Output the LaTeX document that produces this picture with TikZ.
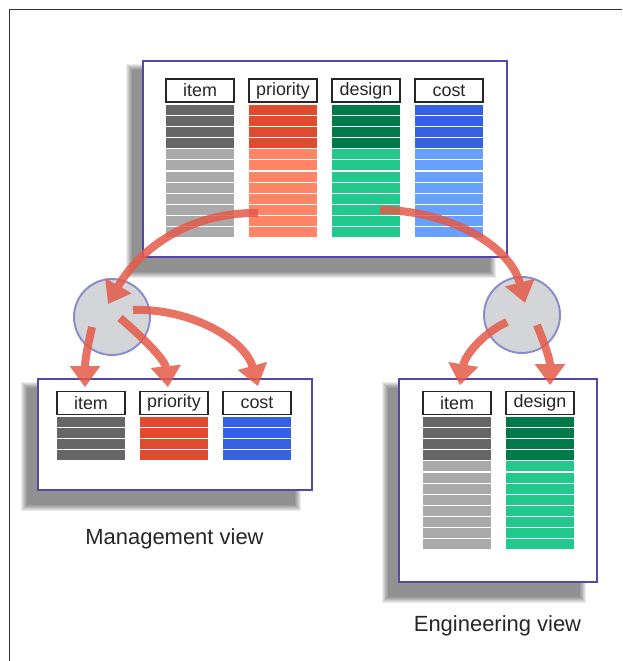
\documentclass[tikz,border=0pt]{standalone}
\usepackage{fontspec}
\setmainfont{Liberation Sans}
\usetikzlibrary{arrows.meta}
\definecolor{itemdark}{HTML}{666666}
\definecolor{itemlight}{HTML}{AAAAAA}
\definecolor{prioritydark}{HTML}{E04B30}
\definecolor{prioritylight}{HTML}{FF8566}
\definecolor{designdark}{HTML}{007A48}
\definecolor{designlight}{HTML}{22C88C}
\definecolor{costdark}{HTML}{3562E2}
\definecolor{costlight}{HTML}{68A0FF}
\definecolor{viewedge}{HTML}{5548A8}
\definecolor{hubedge}{HTML}{8A8ACC}
\definecolor{hubfill}{HTML}{D3D5D8}
\definecolor{flowred}{HTML}{E45A48}
\tikzset{
  view/.style={draw=viewedge, fill=white, line width=1.1pt},
  colhead/.style={draw=black!85, fill=white, line width=0.9pt, inner sep=0pt,
    minimum width=1.36cm, minimum height=0.46cm, text=black!85,
    font=\fontsize{10.2}{12}\selectfont},
  hub/.style={circle, draw=hubedge, fill=hubfill, line width=1.1pt, inner sep=0pt, minimum size=1.52cm},
  flow/.style={draw=flowred, line width=0.16cm, -{Triangle[width=0.58cm,length=0.42cm]}},
  caption/.style={font=\fontsize{12.5}{15}\selectfont, anchor=base, text=black!85}
}
% left x, top y, dark rows, all rows, colour
\newcommand\barstack[5]{%
  \foreach \k in {1,...,#4}{
    \ifnum\k>#3\relax\def\tone{#5light}\else\def\tone{#5dark}\fi
    \fill[fill=\tone] (#1,{#2+(\k-1)*11.1}) rectangle ++(68,10);
  }}
\newcommand\softshadow[4]{%
  \foreach \g in {0,...,6}
    \fill[black, opacity=0.08] (#1-11-\g,#2+9-\g) rectangle (#3-17+\g,#4+15+\g);}

\begin{document}
\begin{tikzpicture}[x=0.02cm, y=-0.02cm]
\useasboundingbox (0,0) rectangle (622,661);
\draw[black!80, line width=0.85pt] (9.5,661) -- (9.5,9.5) -- (622,9.5);

% full table
\softshadow{143}{61}{507}{257}
\draw[view] (143,61) rectangle (507,257);
\node[colhead] (allItem) at (200,90.5) {item};
\node[colhead] (allPriority) at (283,90.5) {priority};
\node[colhead] (allDesign) at (366,90.5) {design};
\node[colhead] (allCost) at (449,90.5) {cost};
\barstack{166}{105}{4}{12}{item}
\barstack{249}{105}{4}{12}{priority}
\barstack{332}{105}{4}{12}{design}
\barstack{415}{105}{4}{12}{cost}
\coordinate (fromPriority) at (258,213);
\coordinate (fromDesign) at (380,210);

% management view
\softshadow{38}{379}{312}{490}
\draw[view] (38,379) rectangle (312,490);
\node[colhead] (mgItem) at (91,403) {item};
\node[colhead] (mgPriority) at (174,403) {priority};
\node[colhead] (mgCost) at (257,403) {cost};
\barstack{57}{417}{4}{4}{item}
\barstack{140}{417}{4}{4}{priority}
\barstack{223}{417}{4}{4}{cost}
\node[caption] (mgCaption) at (174.5,544) {Management view};

% engineering view
\softshadow{399}{379}{597}{582}
\draw[view] (399,379) rectangle (597,582);
\node[colhead] (enItem) at (457,403) {item};
\node[colhead] (enDesign) at (540,403) {design};
\barstack{423}{417}{4}{12}{item}
\barstack{506}{417}{4}{12}{design}
\node[caption] (enCaption) at (497.5,631) {Engineering view};

\node[hub] (mgHub) at (112,317) {};
\node[hub] (enHub) at (522,315) {};

\begin{scope}[transparency group, opacity=0.85]
\draw[flow] (fromPriority) .. controls +(-68,-1) and +(32,-56) .. ([shift={(-4,-13)}]mgHub.center);
\draw[flow] (fromDesign) .. controls +(68,0) and +(-15,-58) .. ([shift={(3,-12)}]enHub.center);
\draw[flow] ([shift={(-20,10)}]mgHub.center) .. controls +(-4,18) and +(0,-28) .. ([shift={(-6,-3.5)}]mgItem.north);
\draw[flow] ([shift={(8,1)}]mgHub.center) .. controls +(20,17) and +(-3,-28) .. ([shift={(-6,-3.5)}]mgPriority.north);
\draw[flow] ([shift={(21,-7)}]mgHub.center) .. controls +(57,-2) and +(-13,-47) .. ([shift={(1,-4.5)}]mgCost.north);
\draw[flow] ([shift={(-15,7)}]enHub.center) .. controls +(-22,10) and +(5,-31) .. ([shift={(3,-5.5)}]enItem.north);
\draw[flow] ([shift={(15,10)}]enHub.center) .. controls +(8,20) and +(0,-26) .. ([shift={(10,-5.5)}]enDesign.north);
\end{scope}

\end{tikzpicture}
\end{document}
